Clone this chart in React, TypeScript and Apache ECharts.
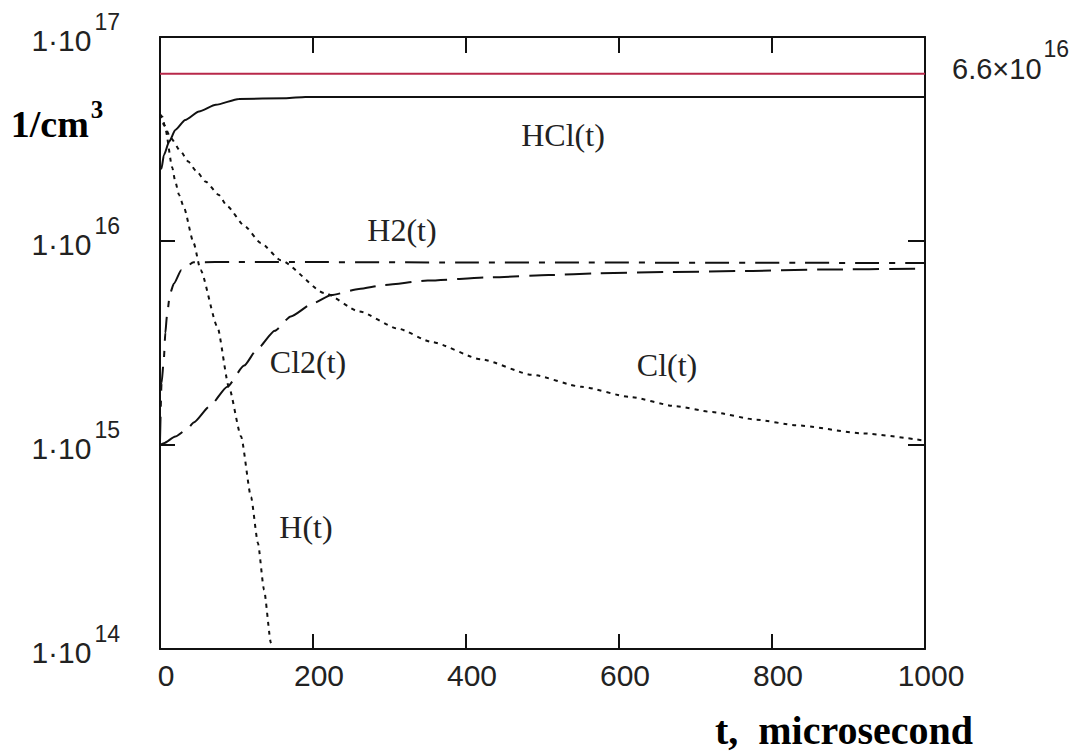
import React, { useEffect, useRef } from "react";
import * as echarts from "echarts";

// ---- data (t in microseconds, concentrations in 1/cm^3) ----
const X_TICKS = [0, 200, 400, 600, 800, 1000];
const Y_DECADES = [14, 15, 16, 17];

const HCL_T = [0, 2, 5, 12, 20, 33, 51, 73, 103, 165, 190, 400, 700, 1000];
const HCL_V = [2.24e16, 2.27e16, 2.63e16, 3.07e16, 3.5e16, 3.92e16, 4.31e16, 4.65e16, 4.97e16, 5.01e16, 5.08e16, 5.08e16, 5.08e16, 5.08e16];

const H_T = [0, 3, 7, 16, 20, 25, 31, 44, 53, 75, 90, 106, 119, 128, 136, 145, 150];
const H_V = [4.17e16, 4.07e16, 3.55e16, 2.29e16, 1.95e16, 1.68e16, 1.47e16, 9.77e15, 7.21e15, 3.8e15, 1.93e15, 1.1e15, 5.56e14, 3.31e14, 1.95e14, 1.07e14, 7.9e13];

const CL_T = [0, 5, 14, 27, 37, 47, 60, 77, 88, 110, 132, 158, 215, 260, 311, 355, 420, 486, 551, 614, 674, 722, 780, 831, 919, 1000];
const CL_V = [4.17e16, 3.72e16, 3.2e16, 2.75e16, 2.45e16, 2.21e16, 1.95e16, 1.68e16, 1.48e16, 1.19e16, 9.77e15, 8.04e15, 5.56e15, 4.52e15, 3.72e15, 3.2e15, 2.63e15, 2.21e15, 1.93e15, 1.72e15, 1.55e15, 1.45e15, 1.33e15, 1.25e15, 1.14e15, 1.05e15];

const H2_T = [0, 2, 5, 7, 9, 13, 18, 28, 44, 100, 400, 1000];
const H2_V = [1.05e15, 2.0e15, 2.63e15, 3.55e15, 4.27e15, 5.5e15, 6.17e15, 7.2e15, 7.87e15, 7.9e15, 7.85e15, 7.8e15];

const CL2_T = [0, 5, 20, 36, 44, 65, 88, 110, 127, 150, 171, 200, 224, 260, 293, 350, 433, 508, 573, 670, 765, 860, 1000];
const CL2_V = [1.0e15, 1.02e15, 1.1e15, 1.2e15, 1.29e15, 1.55e15, 1.93e15, 2.45e15, 2.95e15, 3.63e15, 4.27e15, 4.95e15, 5.43e15, 5.82e15, 6.08e15, 6.4e15, 6.64e15, 6.81e15, 6.95e15, 7.05e15, 7.13e15, 7.24e15, 7.33e15];

const LIMIT_T = [0, 1000];
const LIMIT_V = [6.6e16, 6.6e16];

const CURVE_LABELS = ["HCl(t)", "H2(t)", "Cl2(t)", "Cl(t)", "H(t)"];

const zip = (t: number[], v: number[]) => t.map((x, i) => [x, v[i]]);

export default function App() {
  const ref = useRef<HTMLDivElement>(null);

  useEffect(() => {
    if (!ref.current) return;
    const chart = echarts.init(ref.current, null, { renderer: "svg" });
    const sans = "'Liberation Sans', Arial, sans-serif";
    const serif = "'Liberation Serif', 'Times New Roman', serif";
    const ink = "#111";

    const yLabelRich = {
      a: { fontSize: 30, fontFamily: sans, color: "#222", padding: [6, 0, 0, 0] },
      b: { fontSize: 23, fontFamily: sans, color: "#222", padding: [0, 0, 30, 3] },
    };

    const lineBase = (name: string, data: number[][], type: any, color = ink, width = 2) => ({
      name,
      type: "line",
      data,
      showSymbol: false,
      symbol: "none",
      smooth: 0.2,
      smoothMonotone: "x",
      clip: true,
      lineStyle: { color, width, type },
      xAxisIndex: 0,
      yAxisIndex: 0,
    });

    const labelPos = [
      [563, 135],
      [402, 230],
      [308, 362],
      [667, 365],
      [306, 527],
    ];

    const axisLine = { show: true, onZero: false, lineStyle: { color: ink, width: 2 } };

    chart.setOption({
      animation: false,
      backgroundColor: "#fff",
      grid: { left: 160, top: 37, right: 152, bottom: 102, containLabel: false },
      xAxis: [
        {
          type: "value",
          min: X_TICKS[0],
          max: X_TICKS[X_TICKS.length - 1],
          interval: X_TICKS[1] - X_TICKS[0],
          position: "bottom",
          axisLine,
          axisTick: { show: true, inside: true, length: 15, lineStyle: { color: ink, width: 2 } },
          splitLine: { show: false },
          axisLabel: {
            show: true,
            fontSize: 30,
            fontFamily: sans,
            color: "#222",
            margin: 11,
            padding: [0, 0, 0, 12],
            formatter: (v: number) => String(v),
          },
        },
        {
          type: "value",
          min: X_TICKS[0],
          max: X_TICKS[X_TICKS.length - 1],
          interval: X_TICKS[1] - X_TICKS[0],
          position: "top",
          axisLine,
          axisTick: { show: true, inside: true, length: 16, lineStyle: { color: ink, width: 2 } },
          splitLine: { show: false },
          axisLabel: { show: false },
        },
      ],
      yAxis: [
        {
          type: "log",
          logBase: 10,
          min: Math.pow(10, Y_DECADES[0]),
          max: Math.pow(10, Y_DECADES[Y_DECADES.length - 1]),
          position: "left",
          axisLine,
          axisTick: { show: true, inside: true, length: 15, lineStyle: { color: ink, width: 2 } },
          minorTick: { show: false },
          splitLine: { show: false },
          axisLabel: {
            show: true,
            margin: 40,
            formatter: (v: number) => `{a|1·10}{b|${Math.round(Math.log10(v))}}`,
            rich: yLabelRich,
          },
        },
        {
          type: "log",
          logBase: 10,
          min: Math.pow(10, Y_DECADES[0]),
          max: Math.pow(10, Y_DECADES[Y_DECADES.length - 1]),
          position: "right",
          axisLine,
          axisTick: { show: true, inside: true, length: 17, lineStyle: { color: ink, width: 2 } },
          splitLine: { show: false },
          axisLabel: { show: false },
        },
      ],
      series: [
        {
          ...lineBase("limit", zip(LIMIT_T, LIMIT_V), "solid", "#b8284a", 2),
          smooth: false,
          endLabel: {
            show: true,
            distance: 27,
            formatter: "{a|6.6×10}{b|16}",
            rich: {
              a: { fontSize: 29, fontFamily: sans, color: "#222", padding: [0, 0, 10, 0] },
              b: { fontSize: 23, fontFamily: sans, color: "#222", padding: [0, 0, 50, 2] },
            },
          },
        },
        lineBase("HCl", zip(HCL_T, HCL_V), "solid"),
        lineBase("H", zip(H_T, H_V), [4, 5]),
        lineBase("Cl", zip(CL_T, CL_V), [4, 5]),
        lineBase("H2", zip(H2_T, H2_V), [24, 10, 6, 10]),
        lineBase("Cl2", zip(CL2_T, CL2_V), [26, 10]),
      ],
      graphic: [
        ...CURVE_LABELS.map((txt, i) => ({
          type: "text",
          x: labelPos[i][0],
          y: labelPos[i][1],
          silent: true,
          style: {
            text: txt,
            fontSize: 32,
            fontFamily: serif,
            fill: "#222",
            align: "center",
            verticalAlign: "middle",
            textAlign: "center",
            textVerticalAlign: "middle",
          },
        })),
        {
          type: "text",
          x: 57,
          y: 124,
          silent: true,
          style: {
            text: "{a|1/cm}{b|3}",
            fill: "#000",
            align: "center",
            verticalAlign: "middle",
            textAlign: "center",
            textVerticalAlign: "middle",
            rich: {
              a: { fontSize: 38, fontWeight: "bold", fontFamily: serif, fill: "#000", color: "#000" },
              b: { fontSize: 25, fontWeight: "bold", fontFamily: serif, fill: "#000", color: "#000", padding: [0, 0, 30, 2] },
            },
          },
        },
        {
          type: "text",
          x: 844,
          y: 730,
          silent: true,
          style: {
            text: "t,  microsecond",
            fontSize: 40,
            fontWeight: "bold",
            fontFamily: serif,
            fill: "#000",
            align: "center",
            verticalAlign: "middle",
            textAlign: "center",
            textVerticalAlign: "middle",
          },
        },
      ],
    });
    return () => chart.dispose();
  }, []);

  return (
    <div
      ref={ref}
      style={{ position: "absolute", left: 0, top: 0, width: 1077, height: 751, background: "#fff" }}
    />
  );
}
